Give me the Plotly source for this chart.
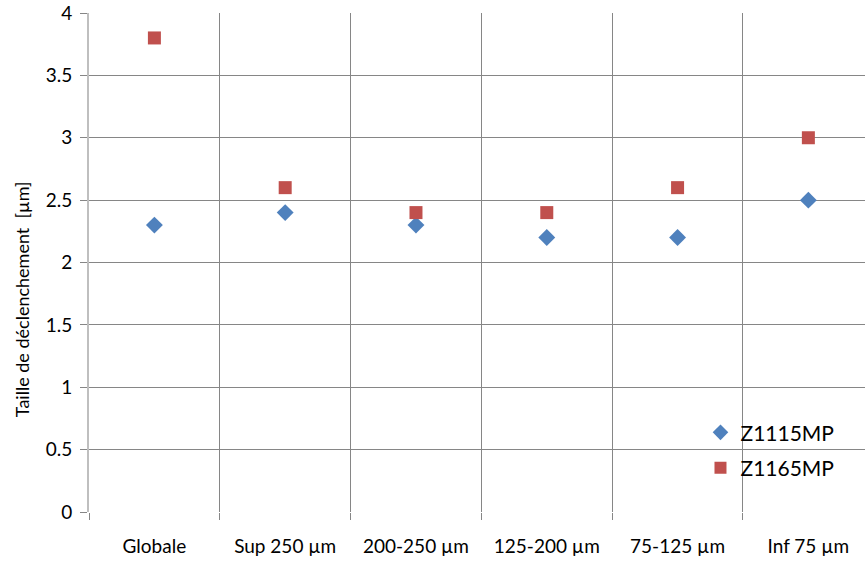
import plotly.graph_objects as go

categories = ["Globale", "Sup 250 µm", "200-250 µm", "125-200 µm", "75-125 µm", "Inf 75 µm"]
z1115mp = [2.3, 2.4, 2.3, 2.2, 2.2, 2.5]
z1165mp = [3.8, 2.6, 2.4, 2.4, 2.6, 3.0]
y_ticks = [0, 0.5, 1, 1.5, 2, 2.5, 3, 3.5, 4]
y_tick_text = ["0", "0.5", "1", "1.5", "2", "2.5", "3", "3.5", "4"]
y_title = "Taille de déclenchement  [µm]"

font_family = "Lato, 'Open Sans', sans-serif"

fig = go.Figure()
fig.add_trace(go.Scatter(
    x=categories, y=z1115mp, mode="markers", name="Z1115MP", legendgroup="a",
    marker=dict(symbol="diamond", size=13, color="#4F81BD"),
))
fig.add_trace(go.Scatter(
    x=categories, y=z1165mp, mode="markers", name="Z1165MP", legendgroup="b",
    marker=dict(symbol="square", size=13, color="#C0504D"),
))

fig.update_layout(
    width=865, height=561,
    margin=dict(l=89, r=0, t=13, b=49),
    paper_bgcolor="white", plot_bgcolor="white",
    font=dict(family=font_family, size=19, color="#000000"),
    showlegend=True,
    legend=dict(
        x=0.788, y=0.20, xanchor="left", yanchor="top",
        bgcolor="rgba(0,0,0,0)", font=dict(size=21),
        itemsizing="constant", tracegroupgap=5,
    ),
    xaxis=dict(
        type="category", tickson="boundaries",
        range=[-0.5, 5.433], automargin=False,
        showgrid=True, gridcolor="#868686", gridwidth=1,
        ticks="outside", ticklen=7, tickcolor="#868686",
        showline=False, zeroline=False,
        tickfont=dict(size=19),
        ticklabelstandoff=21,
    ),
    yaxis=dict(
        range=[0, 4], tickvals=y_ticks, ticktext=y_tick_text,
        automargin=False,
        showgrid=True, gridcolor="#868686", gridwidth=1,
        ticks="outside", ticklen=7, tickcolor="#868686",
        showline=True, linecolor="#BFBFBF", linewidth=2,
        zeroline=False,
        tickfont=dict(size=19),
        ticklabelstandoff=4,
    ),
    annotations=[dict(
        text=y_title, textangle=-90, showarrow=False,
        xref="paper", yref="paper", x=-0.086, y=0.427,
        xanchor="center", yanchor="middle",
        font=dict(size=18),
    )],
)

fig.write_html(
    "out.html",
    config={"displayModeBar": False},
    post_script="document.body.style.margin='0';document.body.style.overflow='hidden';",
)
